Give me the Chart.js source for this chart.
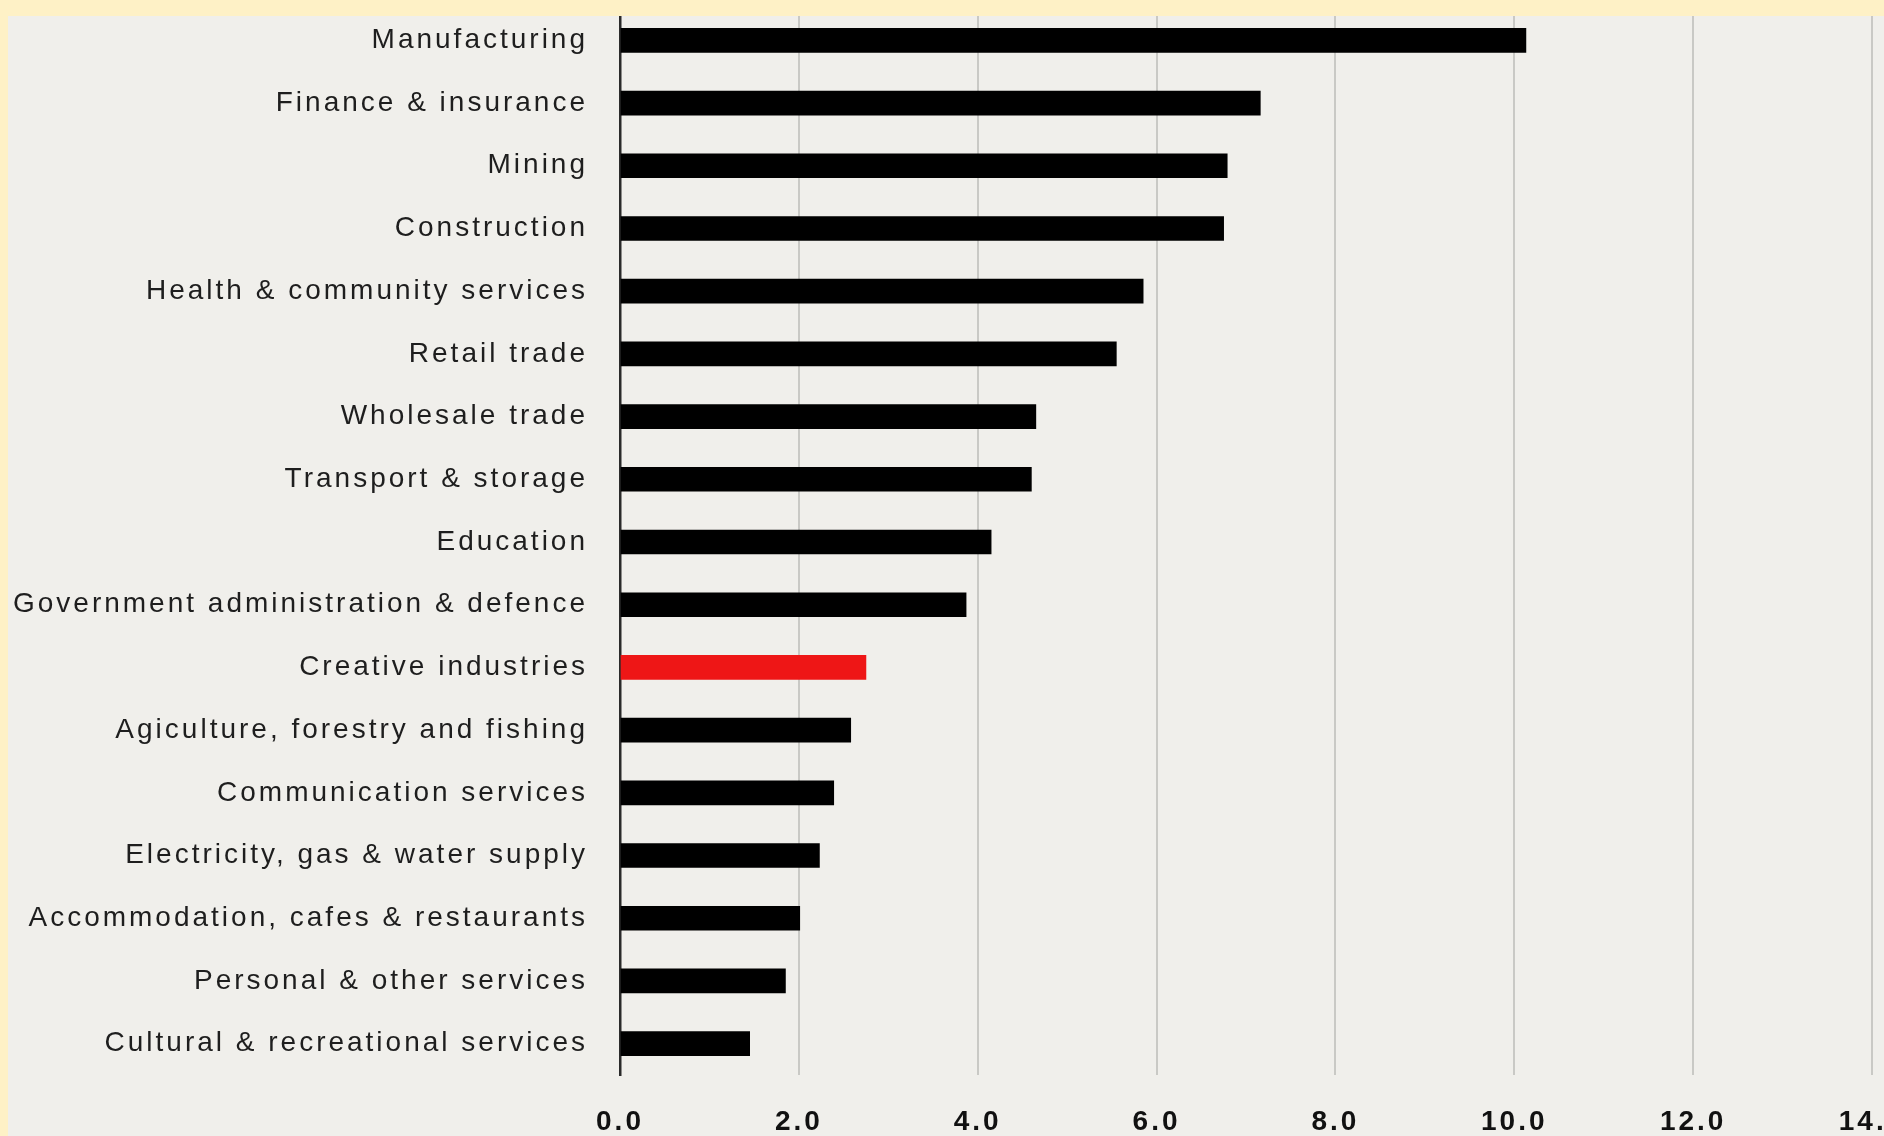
<!DOCTYPE html>
<html><head><meta charset="utf-8">
<script src="https://cdn.jsdelivr.net/npm/chart.js@4"></script>
<style>
html,body{margin:0;padding:0;overflow:hidden;width:1884px;height:1136px;background:#F0EFEB;}
#wrap{position:absolute;left:0;top:0;width:1920px;height:1136px;}
canvas{display:block;}
</style></head><body>
<div id="wrap"><canvas id="c" width="1920" height="1136"></canvas></div>
<script>
const categories = [
  'Manufacturing',
  'Finance & insurance',
  'Mining',
  'Construction',
  'Health & community services',
  'Retail trade',
  'Wholesale trade',
  'Transport & storage',
  'Education',
  'Government administration & defence',
  'Creative industries',
  'Agiculture, forestry and fishing',
  'Communication services',
  'Electricity, gas & water supply',
  'Accommodation, cafes & restaurants',
  'Personal & other services',
  'Cultural & recreational services'
];
const values = [10.13, 7.16, 6.79, 6.75, 5.85, 5.55, 4.65, 4.6, 4.15, 3.87, 2.75, 2.58, 2.39, 2.23, 2.01, 1.85, 1.45];
const highlightCategory = 'Creative industries';
const xMin = 0, xMax = 14, xStep = 2;

const chart = new Chart(document.getElementById('c'), {
  type: 'bar',
  data: {
    labels: categories,
    datasets: [{
      data: values,
      backgroundColor: categories.map(c => c === highlightCategory ? '#EE1616' : '#000000'),
      barThickness: 24,
      borderWidth: 0
    }]
  },
  options: {
    indexAxis: 'y',
    responsive: false,
    animation: false,
    layout: { padding: { left: 8, right: 48, top: 9, bottom: 0 } },
    plugins: { legend: { display: false }, tooltip: { enabled: false } },
    scales: {
      x: {
        min: xMin, max: xMax,
        ticks: {
          stepSize: xStep,
          callback: v => Number(v).toFixed(1),
          color: '#111111',
          font: { family: 'Liberation Sans', size: 28, weight: 'bold', lineHeight: 1 },
          padding: 33, maxRotation: 0, autoSkip: false
        },
        grid: {
          color: c => (c.tick && c.tick.value === 0) ? 'rgba(0,0,0,0)' : '#C9C9C5',
          lineWidth: 2, drawTicks: false
        },
        border: { display: false },
        afterFit: s => { s.paddingLeft = 0; s.paddingRight = 0; s.height = 61; }
      },
      y: {
        ticks: {
          color: '#1E1E1E',
          font: { family: 'Liberation Sans', size: 28, lineHeight: 1 },
          padding: 32, autoSkip: false
        },
        grid: { display: false, drawTicks: false },
        border: { display: true, color: '#2A2A2A', width: 2.5 },
        afterFit: s => { s.width = 612; s.paddingTop = 0; s.paddingBottom = 0; }
      }
    }
  },
  plugins: [{
    id: 'styling',
    beforeUpdate(c) { c.ctx.letterSpacing = '3px'; },
    beforeDraw(c) { c.ctx.letterSpacing = '3px'; },
    afterDraw(c) {
      const ctx = c.ctx;
      ctx.save();
      ctx.fillStyle = '#FEF1C6';
      ctx.fillRect(0, 0, c.width, 16);
      ctx.fillRect(0, 0, 8, c.height);
      ctx.restore();
    }
  }]
});
</script>
</body></html>
